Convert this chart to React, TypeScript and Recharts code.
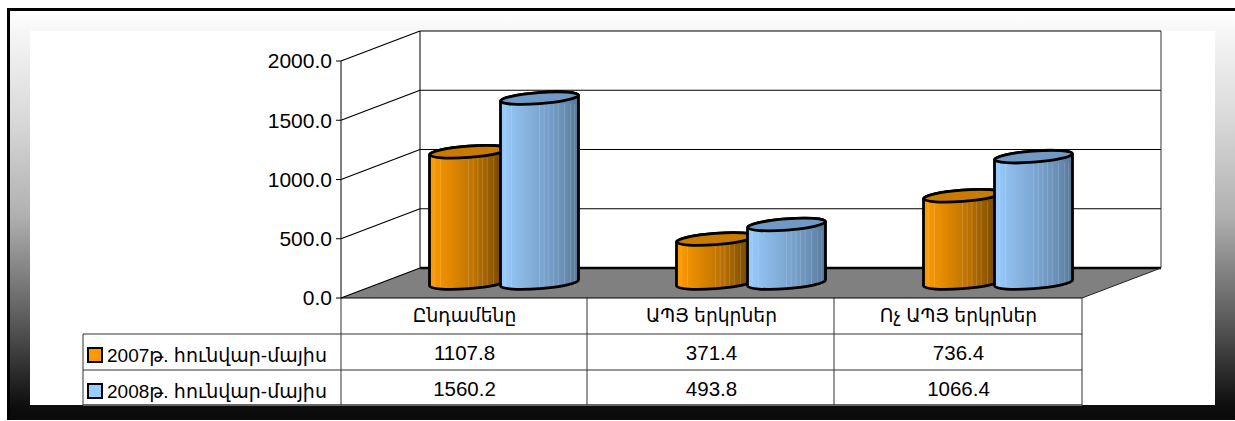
import { BarChart, Bar, XAxis, YAxis, Customized } from "recharts";

const categories = ["Ընդամենը", "ԱՊՅ երկրներ", "Ոչ ԱՊՅ երկրներ"];
const values2007 = [1107.8, 371.4, 736.4];
const values2008 = [1560.2, 493.8, 1066.4];
const seriesNames = ["2007թ. հունվար-մայիս", "2008թ. հունվար-մայիս"];
const yTicks = [0, 500, 1000, 1500, 2000];

const data = categories.map((c, i) => ({
  category: c,
  v2007: values2007[i],
  v2008: values2008[i],
}));

const FONT = '"Liberation Sans", "DejaVu Sans", sans-serif';
const PLOT = { left: 341, top: 61, right: 1082, bottom: 298 };
const DEPTH_X = 79;
const DEPTH_Y = 30;
const STREAKS = [0.06, 0.14, 0.5, 0.56, 0.62, 0.68, 0.74, 0.82, 0.9, 0.95];

const wallY = (v: number) =>
  PLOT.bottom - (v / 2000) * (PLOT.bottom - PLOT.top);

function Cylinder(props: any) {
  const { x, y, width, height, gradient, topFill } = props;
  const dx = DEPTH_X / 2;
  const dy = -DEPTH_Y / 2;
  const left = x + dx;
  const right = left + width;
  const top = y + dy;
  const base = y + height + dy;
  const rx = width / 2;
  const ry = 5.6;
  const tilt = 3;
  const angle = -4.4;
  const body = `M${left},${top + tilt} L${left},${base + tilt} A${rx},${ry} ${angle} 0 0 ${right},${base - tilt} L${right},${top - tilt} A${rx},${ry} ${angle} 0 0 ${left},${top + tilt} Z`;
  return (
    <g>
      <path d={body} fill={`url(#${gradient})`} />
      {STREAKS.map((s) => (
        <line
          key={s}
          x1={left + s * width}
          x2={left + s * width}
          y1={top + 6}
          y2={base + 4}
          stroke="#ffffff"
          strokeOpacity={0.16}
        />
      ))}
      <path d={body} fill="none" stroke="#000" strokeWidth={2.8} />
      <ellipse
        cx={left + rx}
        cy={top}
        rx={rx}
        ry={ry}
        transform={`rotate(${angle} ${left + rx} ${top})`}
        fill={topFill}
        stroke="#000"
        strokeWidth={2.8}
      />
    </g>
  );
}

function Walls() {
  const bx = PLOT.left + DEPTH_X;
  const bxr = PLOT.right + DEPTH_X;
  return (
    <g>
      <defs>
        <linearGradient id="orangeBody" x1="0" x2="1" y1="0" y2="0">
          <stop offset="0" stopColor="#ff9c00" />
          <stop offset="0.3" stopColor="#dd8600" />
          <stop offset="0.6" stopColor="#b87000" />
          <stop offset="0.85" stopColor="#875300" />
          <stop offset="1" stopColor="#5e3a00" />
        </linearGradient>
        <linearGradient id="blueBody" x1="0" x2="1" y1="0" y2="0">
          <stop offset="0" stopColor="#99ccff" />
          <stop offset="0.3" stopColor="#88b5e2" />
          <stop offset="0.6" stopColor="#76a0ca" />
          <stop offset="0.85" stopColor="#668bb0" />
          <stop offset="1" stopColor="#567595" />
        </linearGradient>
      </defs>
      <polygon
        points={`${PLOT.left},${PLOT.bottom} ${PLOT.right},${PLOT.bottom} ${bxr},${PLOT.bottom - DEPTH_Y} ${bx},${PLOT.bottom - DEPTH_Y}`}
        fill="#808080"
      />
      {yTicks.map((t) => (
        <g key={t}>
          <line
            x1={PLOT.left}
            y1={wallY(t)}
            x2={bx}
            y2={wallY(t) - DEPTH_Y}
            stroke="#000"
            strokeWidth={1.3}
          />
          <line
            x1={bx}
            y1={wallY(t) - DEPTH_Y}
            x2={bxr}
            y2={wallY(t) - DEPTH_Y}
            stroke="#000"
            strokeWidth={t === 0 ? 2.4 : 1.2}
          />
        </g>
      ))}
      <line x1={bx} x2={bx} y1={PLOT.top - DEPTH_Y} y2={PLOT.bottom - DEPTH_Y} stroke="#000" />
      <line x1={bxr} x2={bxr} y1={PLOT.top - DEPTH_Y} y2={PLOT.bottom - DEPTH_Y} stroke="#333" />
      <line x1={PLOT.right} x2={bxr} y1={PLOT.bottom} y2={PLOT.bottom - DEPTH_Y} stroke="#222" />
    </g>
  );
}

function Table() {
  const tableLeft = 83;
  const rows = [334, 370, 405];
  const cols = [341, 587, 834, 1082];
  const swatches = ["#ff9900", "#99ccff"];
  return (
    <g>
      {rows.map((y, i) => (
        <line
          key={y}
          x1={tableLeft}
          x2={cols[3]}
          y1={y}
          y2={y}
          stroke={i === 2 ? "#666" : "#333"}
          strokeWidth={i === 2 ? 2 : 1}
        />
      ))}
      <line x1={tableLeft} x2={tableLeft} y1={rows[0]} y2={rows[2]} stroke="#333" />
      {cols.map((x) => (
        <line key={x} x1={x} x2={x} y1={PLOT.bottom} y2={rows[2]} stroke="#333" />
      ))}
      {seriesNames.map((name, i) => (
        <g key={name}>
          <rect
            x={88}
            y={rows[i] + 14}
            width={14}
            height={14}
            fill={swatches[i]}
            stroke="#000"
            strokeWidth={2}
          />
          <text x={107} y={rows[i] + 27.5} fontFamily={FONT} fontSize={19} fill="#000">
            {name}
          </text>
        </g>
      ))}
    </g>
  );
}

export default function App() {
  const catTick = { fontFamily: FONT, fontSize: 18.7, fill: "#000" };
  const rowTick = { fontFamily: FONT, fontSize: 20.5, fill: "#000" };
  return (
    <div
      style={{
        position: "absolute",
        left: 0,
        top: 0,
        width: 1235,
        height: 421,
        overflow: "hidden",
        background: "#fff",
      }}
    >
      <div
        style={{
          position: "absolute",
          left: 7,
          top: 8,
          width: 1228,
          height: 412,
          boxSizing: "border-box",
          borderLeft: "3px solid #000",
          borderTop: "3px solid #000",
          background:
            "linear-gradient(180deg, #ffffff 0%, #f6f6f6 5%, #d8d8d8 27%, #b0b0b0 50%, #606060 74%, #0c0c0c 97%, #0a0a0a 100%)",
        }}
      />
      <div
        style={{
          position: "absolute",
          left: 30,
          top: 31,
          width: 1185,
          height: 374,
          background: "#fff",
        }}
      />
      <div style={{ position: "absolute", left: 0, top: 0 }}>
        <BarChart
          width={1235}
          height={421}
          data={data}
          barSize={78}
          barGap={-7}
          margin={{ top: 61, right: 153, bottom: 15, left: 0 }}
        >
          <Customized component={Walls} />
          <YAxis
            width={341}
            domain={[0, 2000]}
            ticks={yTicks}
            tickFormatter={(v: number) => v.toFixed(1)}
            tick={{ fontFamily: FONT, fontSize: 21, fill: "#000" }}
            tickSize={5}
            tickMargin={4}
            stroke="#000"
          />
          <XAxis
            xAxisId="main"
            dataKey="category"
            height={36}
            tickLine={false}
            stroke="#000"
            tick={catTick}
            tickMargin={5}
            interval={0}
          />
          <XAxis
            xAxisId="row2007"
            dataKey="v2007"
            height={36}
            axisLine={false}
            tickLine={false}
            tick={rowTick}
            tickMargin={5}
            interval={0}
            tickFormatter={(v: number) => v.toFixed(1)}
          />
          <XAxis
            xAxisId="row2008"
            dataKey="v2008"
            height={36}
            axisLine={false}
            tickLine={false}
            tick={rowTick}
            tickMargin={5}
            interval={0}
            tickFormatter={(v: number) => v.toFixed(1)}
          />
          <Bar
            xAxisId="main"
            dataKey="v2007"
            name={seriesNames[0]}
            isAnimationActive={false}
            shape={(p: any) => <Cylinder {...p} gradient="orangeBody" topFill="#c97a00" />}
          />
          <Bar
            xAxisId="main"
            dataKey="v2008"
            name={seriesNames[1]}
            isAnimationActive={false}
            shape={(p: any) => <Cylinder {...p} gradient="blueBody" topFill="#7099c4" />}
          />
          <Customized component={Table} />
        </BarChart>
      </div>
    </div>
  );
}
